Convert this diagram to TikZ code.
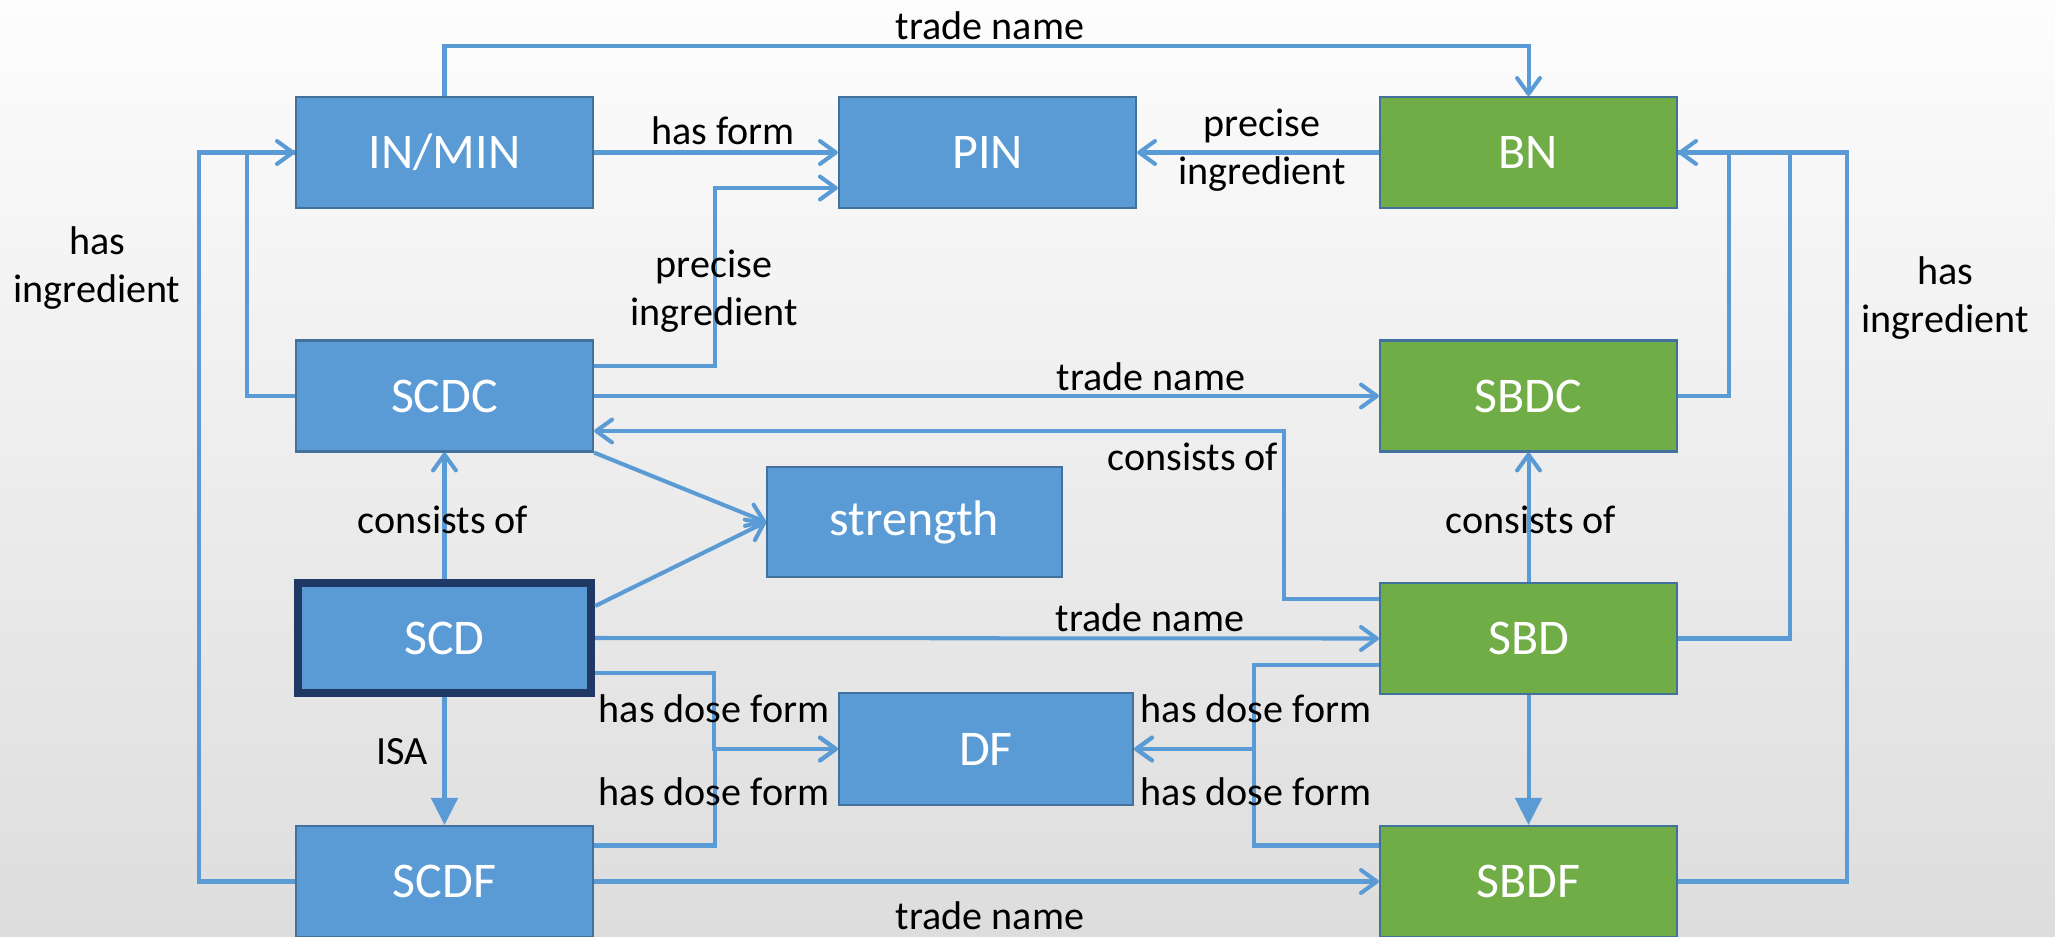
\documentclass[tikz,border=0pt]{standalone}
\usepackage{fontspec}
\setmainfont{Carlito}
\usetikzlibrary{arrows.meta}

\definecolor{boxblue}{HTML}{5B9BD5}
\definecolor{boxgreen}{HTML}{70AD47}
\definecolor{boxline}{HTML}{41719C}
\definecolor{navy}{HTML}{203864}
\definecolor{linkblue}{HTML}{5B9BD5}
\definecolor{bgtop}{HTML}{FDFDFD}
\definecolor{bgbot}{HTML}{DDDDDD}

\newcommand{\boxfont}{\fontsize{14.2}{17}\selectfont}
\newcommand{\lblfont}{\fontsize{11.4}{13.7}\selectfont}

\begin{document}
\begin{tikzpicture}[
  x=0.01cm, y=-0.01cm,
  box/.style={draw=boxline, line width=0.6pt, fill=boxblue, text=white,
    font=\boxfont, minimum width=2.97cm, minimum height=1.11cm, inner sep=0pt},
  brand/.style={box, fill=boxgreen},
  focus/.style={box, draw=navy, line width=2.2pt,
    minimum width=2.935cm, minimum height=1.095cm},
  plain/.style={draw=linkblue, line width=1.15pt},
  link/.style={plain, -{Straight Barb[length=4.5pt,width=6.5pt,round]}},
  isa/.style={plain, -{Triangle[length=7.7pt,width=7.5pt]}},
  lbl/.style={font=\lblfont, align=center, inner sep=0pt},
]

%% ── Canvas ───────────────────────────────────────────────────────────────────
\shade[top color=bgtop, bottom color=bgbot] (0,0) rectangle (2055,936);
\useasboundingbox (0,0) rectangle (2055,936);

%% ── Concept boxes (clinical drug / branded drug) ─────────────────────────────
\node[box]   (inmin)    at (444.5,152.5) {IN/MIN};
\node[box]   (pin)      at (987.5,152.5) {PIN};
\node[brand] (bn)       at (1528.5,152.5) {BN};
\node[box]   (scdc)     at (444.5,396) {SCDC};
\node[brand] (sbdc)     at (1528.5,396) {SBDC};
\node[box, minimum width=2.95cm, minimum height=1.10cm]
             (strength) at (914.5,522) {strength};
\node[focus] (scd)      at (444.5,638) {SCD};
\node[brand] (sbd)      at (1528.5,638.5) {SBD};
\node[box, minimum width=2.94cm, minimum height=1.12cm]
             (df)       at (986,749) {DF};
\node[box]   (scdf)     at (444.5,881.5) {SCDF};
\node[brand] (sbdf)     at (1528.5,881.5) {SBDF};

%% ── Top row ──────────────────────────────────────────────────────────────────
\draw[link] (inmin.north) -- ++(0,-50) -| (bn.north);
\draw[link] (inmin.east) -- (pin.west);
\draw[link] (bn.west) -- (pin.east);
\draw[link] ([yshift=0.3cm]scdc.east) -- ++(121,0) |- ([yshift=-0.355cm]pin.west);

%% ── has ingredient, left side
\draw[plain] (scdc.west) -- ++(-48,0) |- (inmin.west);
\draw[link]  (scdf.west) -- ++(-96,0) |- (inmin.west);

%% ── has ingredient, right side
\draw[plain] (sbdc.east) -- ++(51,0) |- (bn.east);
\draw[plain] (sbd.east) -- ++(112,0) |- (bn.east);
\draw[link]  (sbdf.east) -- ++(169,0) |- (bn.east);

%% ── Middle rows ──────────────────────────────────────────────────────────────
\draw[link] (scdc.east) -- (sbdc.west);
\draw[link] ([yshift=0.395cm]sbd.west) -- ++(-95,0) |- ([yshift=-0.35cm]scdc.east);
\draw[link] (scd.north) -- (scdc.south);
\draw[link] (sbd.north) -- (sbdc.south);
\draw[link] (scdc.south east) -- (strength.west);
\draw[link] ([yshift=0.32cm]scd.east) -- (strength.west);
\draw[link] (scd.east) -- (sbd.west);

%% ── Dose form
\draw[link] ([yshift=-0.35cm]scd.east) -- ++(119,0) |- (df.west);
\draw[link] ([yshift=0.36cm]scdf.east) -- ++(121,0) |- (df.west);
\draw[link] ([yshift=-0.265cm]sbd.west) -- ++(-125,0) |- (df.east);
\draw[link] ([yshift=0.36cm]sbdf.west) -- ++(-125,0) |- (df.east);

%% ── Bottom row ───────────────────────────────────────────────────────────────
\draw[isa]  (scd.south) -- (scdf.north);
\draw[isa]  (sbd.south) -- (sbdf.north);
\draw[link] (scdf.east) -- (sbdf.west);

%% ── Relation labels ──────────────────────────────────────────────────────────
\node[lbl] (tn-top)    at (990,26)    {trade name};
\node[lbl] (hasform)   at (723,131)   {has form};
\node[lbl] (pi-bn)     at (1262,150)  {precise\\ingredient};
\node[lbl] (pi-scdc)   at (714,291)   {precise\\ingredient};
\node[lbl] (hi-left)   at (97,268)    {has\\ingredient};
\node[lbl] (hi-right)  at (1945,298)  {has\\ingredient};
\node[lbl] (tn-scdc)   at (1151,377)  {trade name};
\node[lbl] (co-sbd)    at (1193,457)  {consists of};
\node[lbl] (co-scd)    at (443,520)   {consists of};
\node[lbl] (co-sbdc)   at (1531,520)  {consists of};
\node[lbl] (tn-scd)    at (1150,618)  {trade name};
\node[lbl] (hdf-scd)   at (714,709)   {has dose form};
\node[lbl] (hdf-scdf)  at (714,792)   {has dose form};
\node[lbl] (hdf-sbd)   at (1256,709)  {has dose form};
\node[lbl] (hdf-sbdf)  at (1256,792)  {has dose form};
\node[lbl] (isa-lbl)   at (402,752)   {ISA};
\node[lbl] (tn-bottom) at (990,916)   {trade name};

\end{tikzpicture}
\end{document}
